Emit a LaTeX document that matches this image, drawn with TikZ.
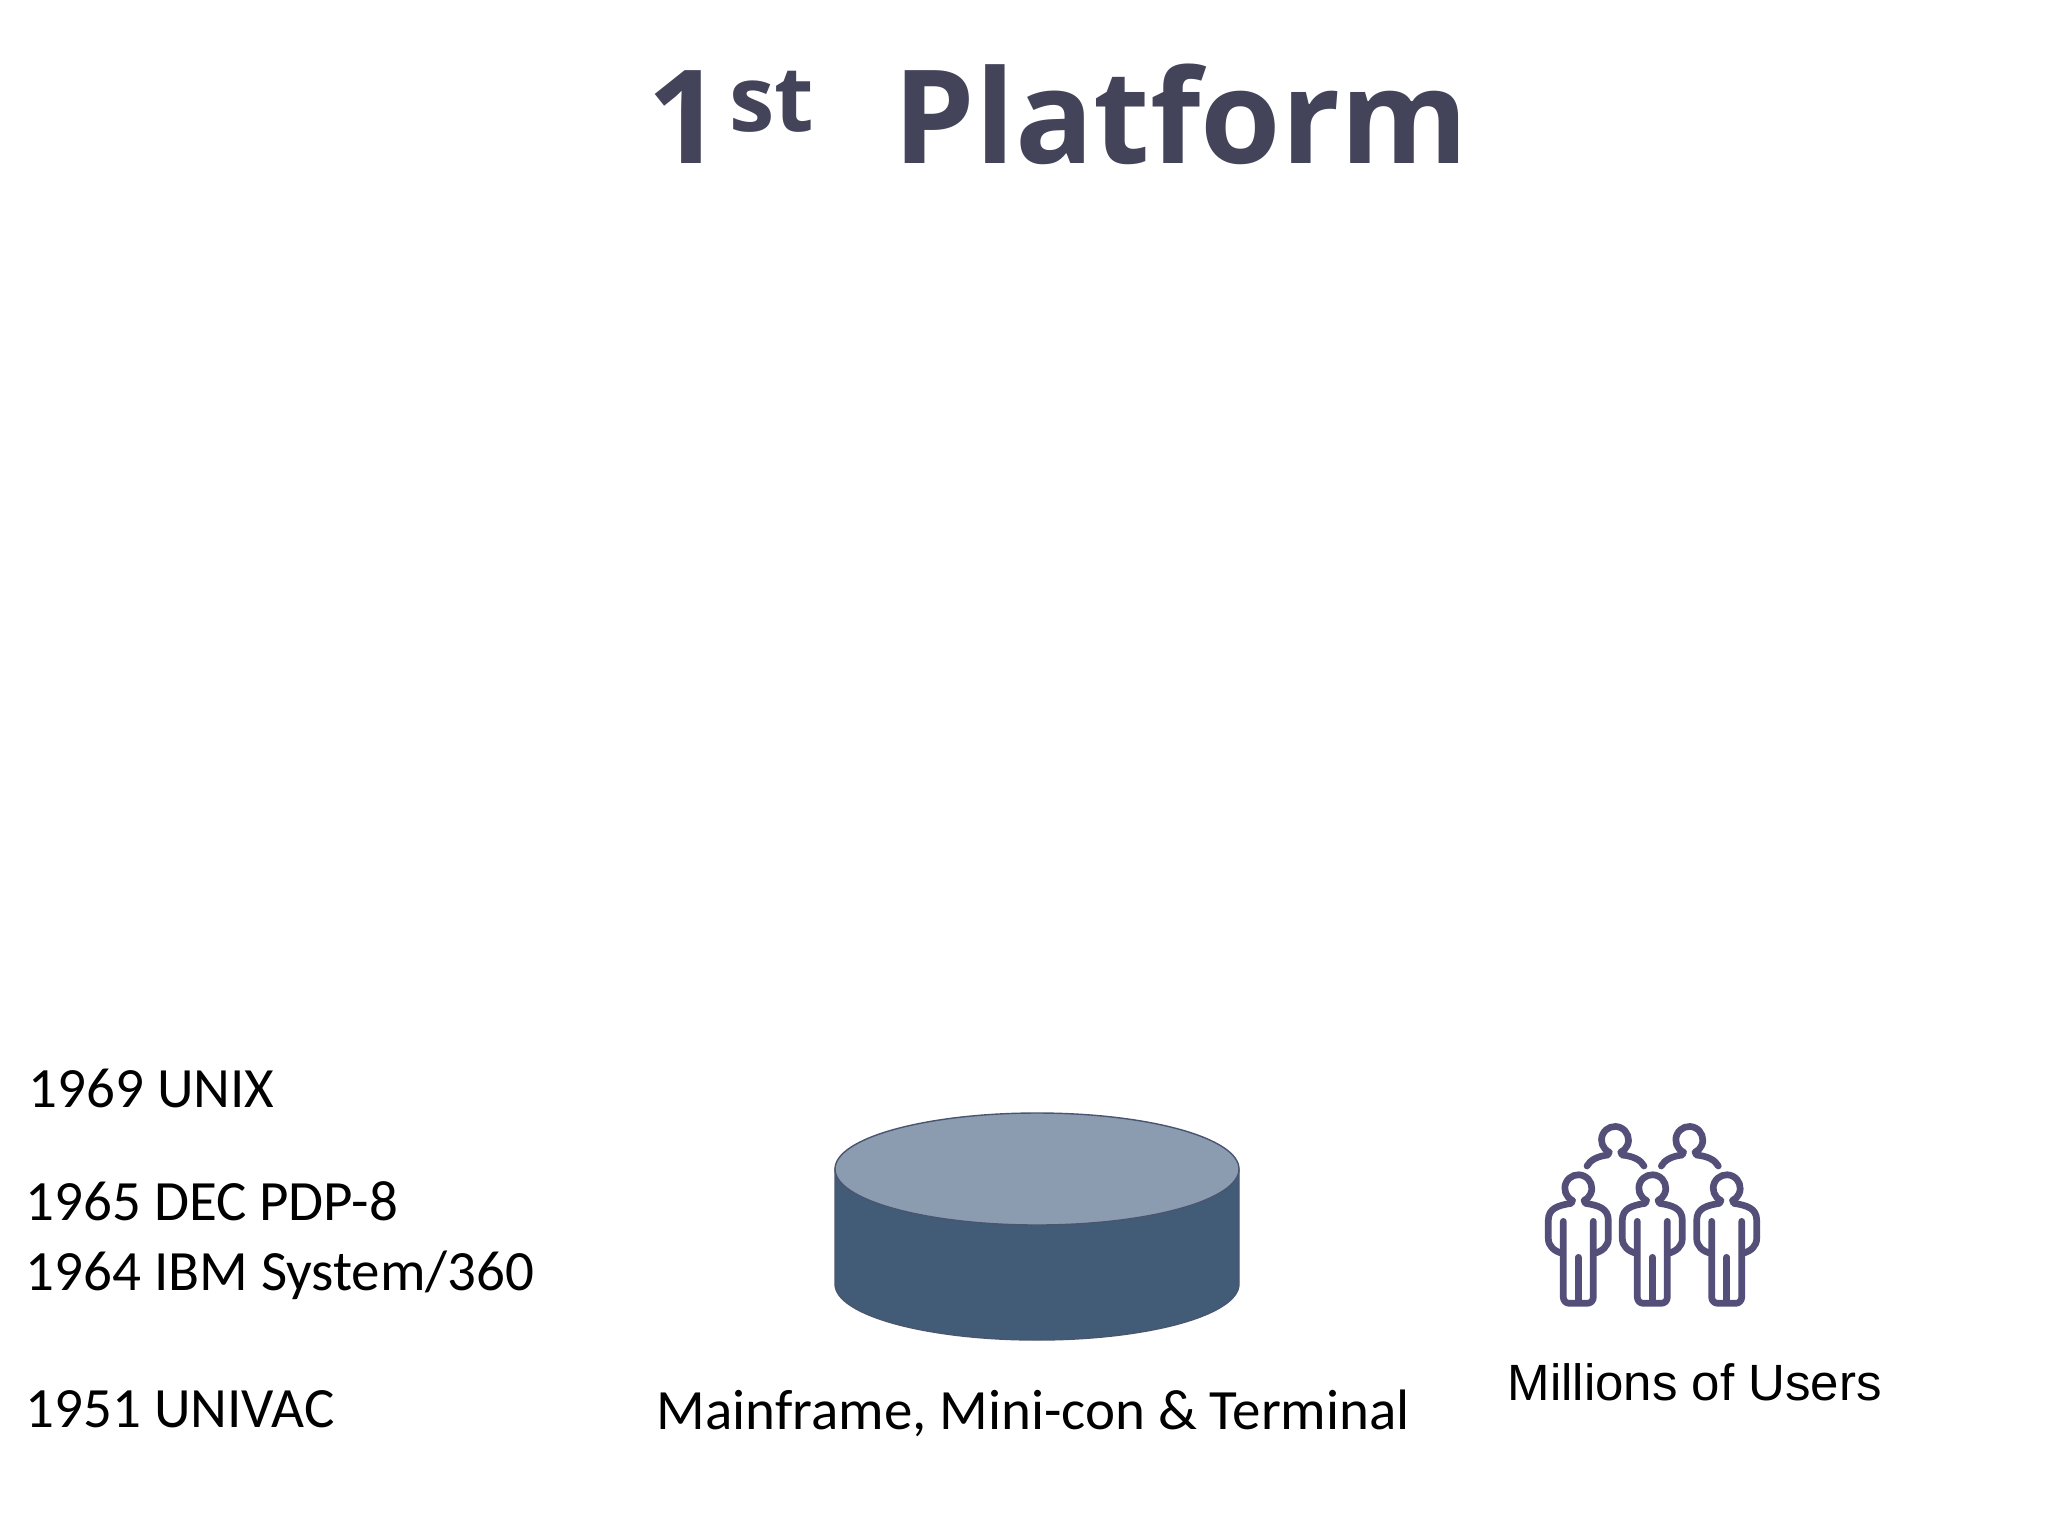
\documentclass[tikz,border=0pt]{standalone}
\usepackage{fontspec}
\setmainfont{Carlito}
\newfontfamily\titlefont{Open Sans}
\newfontfamily\arialfont{Liberation Sans}
\usetikzlibrary{arrows}
\definecolor{titlegray}{HTML}{43445A}
\definecolor{disktop}{HTML}{8B9BB0}
\definecolor{diskside}{HTML}{425C78}
\definecolor{diskedge}{HTML}{4A5570}
\definecolor{iconline}{HTML}{544F78}
\tikzset{
  lowerman/.pic={
    \draw (-5.7,12.2) arc (115:425:13.5);
    \draw (-6.5,13.5) -- (-7,15) .. controls (-20,17) and (-30,20) .. (-30,32) -- (-30,50) .. controls (-30,58) and (-24,63) .. (-16,65);
    \draw (6.5,13.5) -- (7,15) .. controls (20,17) and (30,20) .. (30,32) -- (30,50) .. controls (30,58) and (24,63) .. (16,65);
    \draw (-15,33) -- (-15,109) arc (180:90:6) -- (9,115) arc (90:0:6) -- (15,33);
    \draw (0,69) -- (0,114);
  },
  upperman/.pic={
    \draw (-5.7,12.2) arc (115:425:13.5);
    \draw (-6.5,13.5) -- (-7,15) .. controls (-17,16) and (-25,20) .. (-28,26);
    \draw (6.5,13.5) -- (7,15) .. controls (18,16) and (26,20) .. (29,26);
  }
}
\begin{document}
\begin{tikzpicture}[x=.01cm,y=-.01cm]
\tikzstyle{every node}=[inner sep=0pt, anchor=base west]
\tikzstyle{sidelabel}=[text=black, font=\fontsize{16.2}{19}\selectfont]
\tikzstyle{iconstroke}=[draw=iconline, line width=1.9pt, line cap=round, line join=round]
\useasboundingbox (0,0) rectangle (2048,1536);
\fill[white] (0,0) rectangle (2048,1536);
\node (title) at (647,163) [text=titlegray, font=\titlefont\bfseries\fontsize{37}{44}\selectfont] {1\hspace{2pt}\textsuperscript{st}\ \ \hspace{3pt}Platform};
\node (unix) at (28,1107) [sidelabel] {1969 UNIX};
\node (pdp) at (25,1220) [sidelabel] {1965 DEC PDP-8};
\node (ibm) at (25,1290) [sidelabel] {1964 IBM System/360};
\node (univac) at (25,1427) [sidelabel] {1951 UNIVAC};
\node (mainframe) at (656,1429) [sidelabel] {Mainframe, Mini-con \& Terminal};
\node (users) at (1507,1400) [text=black, font=\arialfont\fontsize{14.5}{17}\selectfont] {Millions of Users};
% disk
\draw[draw=diskedge, fill=diskside, line width=.4pt] (835,1169) -- (835,1284) arc (180:0:202 and 56) -- (1239,1169) -- cycle;
\draw[draw=diskedge, fill=disktop, line width=.4pt] (1037,1169) ellipse (202 and 56);
% users
\begin{scope}[iconstroke]
\foreach \x in {1615,1689.3} \pic at (\x,1140) {upperman};
\foreach \x in {1578.3,1652.3,1726.7} \pic at (\x,1188.3) {lowerman};
\end{scope}
\end{tikzpicture}
\end{document}
